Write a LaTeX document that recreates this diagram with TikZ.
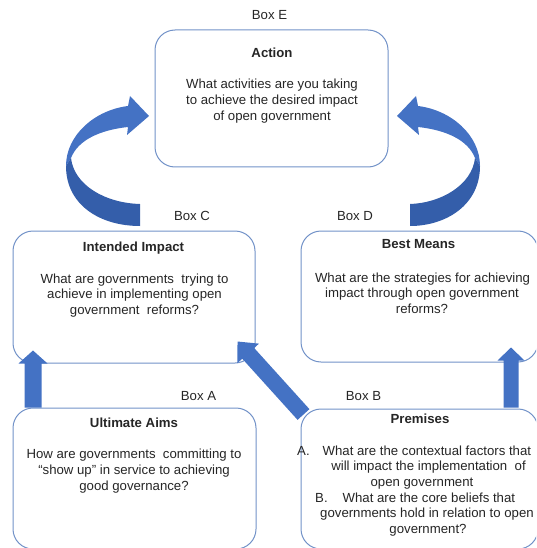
\documentclass[tikz,border=0pt]{standalone}
\usepackage{fontspec}
\setmainfont{Liberation Sans}
\usetikzlibrary{calc}
\definecolor{boxline}{RGB}{114,146,200}
\definecolor{arrowblue}{RGB}{68,114,196}
\definecolor{arrowdark}{RGB}{52,94,170}
\definecolor{txtgray}{RGB}{38,38,38}
% fat straight arrow: start, end, half shaft width, half head width, head length
\newcommand{\fatarrow}[5]{%
  \coordinate (fab) at ($(#2)!#5!(#1)$);
  \fill[arrowblue] ($(#1)!#3!90:(#2)$) -- ($(fab)!#3!-90:(#1)$) -- ($(fab)!#4!-90:(#1)$)
    -- (#2) -- ($(fab)!#4!90:(#1)$) -- ($(fab)!#3!90:(#1)$) -- ($(#1)!#3!-90:(#2)$) -- cycle;}
\begin{document}
\begin{tikzpicture}[x=1pt,y=-1pt,
  box/.style={draw=boxline, line width=1pt, rounded corners=20pt, fill=white, inner sep=0pt},
  txt/.style={anchor=base, inner sep=0pt, text=txtgray, font=\fontsize{13.2}{16}\selectfont},
  ttl/.style={txt, font=\fontsize{13.2}{16}\selectfont\bfseries},
  curvedlight/.style={fill=arrowblue},
  curveddark/.style={fill=arrowdark}]
\useasboundingbox (0,0) rectangle (536,548);
\clip (0,0) rectangle (536,548);

% boxes
\node[box, minimum width=233pt, minimum height=137pt] (E) at (271.5,98.5) {};
\node[box, minimum width=242pt, minimum height=132pt] (C) at (134,297) {};
\node[box, minimum width=237pt, minimum height=131pt] (D) at (419.5,296.5) {};
\node[box, minimum width=243pt, minimum height=141pt] (A) at (134.5,478.5) {};
\node[box, minimum width=237pt, minimum height=140pt] (B) at (419.5,479) {};

% box labels
\node[txt] (lE) at (269.5,20) {Box E};
\node[txt] (lC) at (192,220) {Box C};
\node[txt] (lD) at (355,220) {Box D};
\node[txt] (lA) at (198.5,400) {Box A};
\node[txt] (lB) at (363.5,400) {Box B};

% Box E text
\node[ttl] (e0) at (272,58) {Action};
\node[txt] (e1) at (272,89) {What activities are you taking};
\node[txt] (e2) at (272,105) {to achieve the desired impact};
\node[txt] (e3) at (272,121) {of open government};

% Box C text
\node[ttl] (c0) at (133.5,251) {Intended Impact};
\node[txt] (c1) at (134.5,283) {What are governments\ \ trying to};
\node[txt] (c2) at (134.5,298.5) {achieve in implementing open};
\node[txt] (c3) at (134.5,314) {government\ \ reforms?};

% Box D text
\node[ttl] (d0) at (418.5,248) {Best Means};
\node[txt] (d1) at (422.5,282) {What are the strategies for achieving};
\node[txt] (d2) at (422,297.5) {impact through open government};
\node[txt] (d3) at (422,313) {reforms?};

% Box A text
\node[ttl] (a0) at (134,427) {Ultimate Aims};
\node[txt] (a1) at (134,458) {How are governments\ \ committing to};
\node[txt] (a2) at (134,474) {``show up'' in service to achieving};
\node[txt] (a3) at (134,490) {good governance?};

% Box B text
\node[ttl] (b0) at (420,423) {Premises};
\node[txt, anchor=base west] (b1) at (297,455) {A.\hspace{13pt}What are the contextual factors that};
\node[txt] (b2) at (428.5,470.7) {will impact the implementation\ \ of};
\node[txt] (b3) at (422,486.4) {open government};
\node[txt, anchor=base west] (b4) at (315,502.1) {B.\hspace{15pt}What are the core beliefs that};
\node[txt] (b5) at (427,517.8) {governments\ hold in relation to open};
\node[txt] (b6) at (428,533.5) {government?};

% straight arrows
\coordinate (sA) at ($(A.north west)+(20.5,0)$);
\coordinate (tC) at ($(C.south west)+(20.5,-13)$);
\fatarrow{sA}{tC}{8.5pt}{14.5pt}{13pt}
\coordinate (sB) at ($(B.north east)+(-27.5,-1)$);
\coordinate (tD) at ($(D.south east)+(-27.5,-15)$);
\fatarrow{sB}{tD}{7.5pt}{13.5pt}{13pt}
\coordinate (sB2) at ($(B.north west)+(3,6)$);
\coordinate (tC2) at ($(C.south east)+(-18,-22)$);
\fatarrow{sB2}{tC2}{8pt}{14.5pt}{16pt}

% curved arrow C -> E
\fill[curvedlight] (66,166) .. controls (66,135) and (95,110) .. (128,106) -- (130,96) -- (149,116)
  -- (127,135) -- (128,127) .. controls (100,130) and (78,140) .. (71,158) -- cycle;
\fill[curveddark] (66,166) .. controls (66,205) and (100,226) .. (140,226) -- (140,204)
  .. controls (105,203) and (74,185) .. (71,158) -- cycle;

% curved arrow D -> E (mirror)
\begin{scope}[shift={(546,0)}, xscale=-1]
\fill[curvedlight] (66,166) .. controls (66,135) and (95,110) .. (128,106) -- (130,96) -- (149,116)
  -- (127,135) -- (128,127) .. controls (100,130) and (78,140) .. (71,158) -- cycle;
\fill[curveddark] (66,166) .. controls (66,205) and (100,226) .. (136,226) -- (136,204)
  .. controls (105,203) and (74,185) .. (71,158) -- cycle;
\end{scope}
\end{tikzpicture}
\end{document}
